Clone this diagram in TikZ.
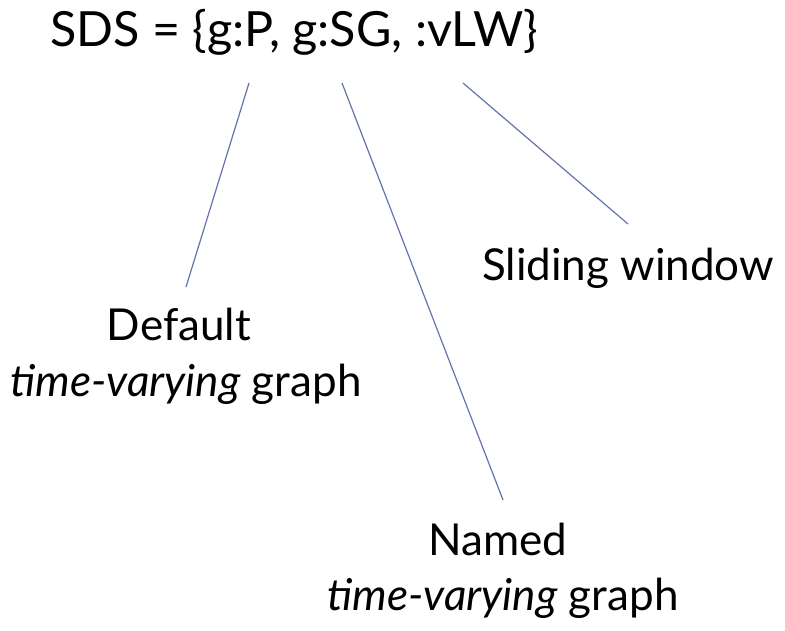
\documentclass[tikz,border=0pt]{standalone}
\usepackage{fontspec}
\setmainfont{Lato}
\definecolor{linecol}{RGB}{100,115,170}
\tikzset{
  lbl/.style={inner sep=0pt, anchor=base, font=\fontsize{44}{50}\selectfont},
  ttl/.style={inner sep=0pt, anchor=base west, font=\fontsize{48.5}{54}\selectfont},
  conn/.style={draw=linecol, line width=1.2pt}
}
\begin{document}
\begin{tikzpicture}[x=1pt,y=-1pt]
\useasboundingbox (0,0) rectangle (785,631);
\node[ttl] (title) at (50,47) {SDS = \{g:P, g:SG, :vLW\}};
\node[lbl] (slide) at (628,280) {Sliding window};
\node[lbl] (def1) at (179,340) {Default};
\node[lbl] (def2) at (186,396) {\textit{time-varying} graph};
\node[lbl] (nam1) at (498,555) {Named};
\node[lbl] (nam2) at (503,610) {\textit{time-varying} graph};
\coordinate (a1) at (249,83);
\coordinate (a2) at (186,287);
\coordinate (b1) at (342,83);
\coordinate (b2) at (503,500);
\coordinate (c1) at (463,83);
\coordinate (c2) at (628,224);
\draw[conn] (a1) -- (a2);
\draw[conn] (b1) -- (b2);
\draw[conn] (c1) -- (c2);
\end{tikzpicture}
\end{document}
